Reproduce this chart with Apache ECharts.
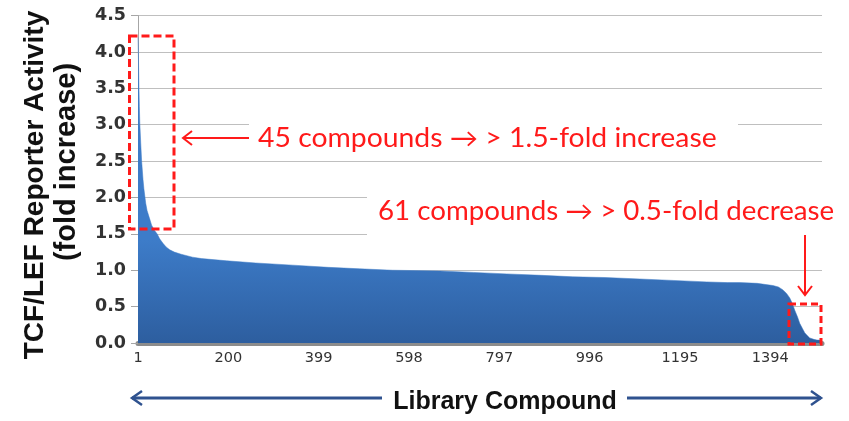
<!DOCTYPE html>
<html>
<head>
<meta charset="utf-8">
<script src="https://cdn.jsdelivr.net/npm/echarts@6/dist/echarts.min.js"></script>
<style>
html,body{margin:0;padding:0;background:#fff;}
#chart{width:849px;height:421px;}
</style>
</head>
<body>
<div id="chart"></div>
<script>
// Compound rank (1-based, sorted by activity) and TCF/LEF reporter activity (fold increase)
var compoundRank = [1,2,3,4,5,7,9,12,14,18,21,26,31,37,43,49,56,63,71,81,96,121,141,196,260,342,420,489,562,666,740,813,890,959,1030,1106,1180,1254,1300,1327,1365,1400,1412,1422,1430,1437,1443,1448,1454,1459,1465,1470,1476,1481,1490,1497,1503,1508];
var activity = [4.20,3.90,3.55,3.25,3.02,2.75,2.50,2.25,2.12,1.92,1.82,1.72,1.62,1.55,1.50,1.43,1.37,1.32,1.28,1.25,1.22,1.18,1.16,1.13,1.10,1.07,1.04,1.02,1.00,0.99,0.97,0.95,0.93,0.91,0.90,0.88,0.86,0.84,0.83,0.83,0.82,0.79,0.77,0.73,0.68,0.62,0.54,0.45,0.36,0.27,0.20,0.14,0.10,0.07,0.05,0.04,0.04,0.03];
var totalCompounds = 1508;
var xTickStep = 199;        // x tick labels: 1, 200, 399, ... 1394
var yTicks = [0,0.5,1,1.5,2,2.5,3,3.5,4,4.5];
var yTitle1 = 'TCF/LEF Reporter Activity';
var yTitle2 = '(fold increase)';
var xTitle = 'Library Compound';
var note1 = '45 compounds \u2192 > 1.5-fold increase';
var note2 = '61 compounds \u2192 > 0.5-fold decrease';

var seriesData = compoundRank.map(function(r, i){ return [r - 1, activity[i]]; });

var chart = echarts.init(document.getElementById('chart'), null, {renderer:'canvas'});
var red = '#ff1a1a';
var blue = '#2f528f';
var noteFont = '26px Lato, "DejaVu Sans", sans-serif';
var titleFont = '"Liberation Sans", Arial, sans-serif';
var option = {
  animation: false,
  backgroundColor: '#ffffff',
  grid: {left: 138, right: 27, top: 15.6, bottom: 78, containLabel: false},
  xAxis: {
    type: 'value',
    min: 0, max: totalCompounds - 1, interval: xTickStep,
    offset: 2.5,
    axisLine: {show: true, lineStyle: {color: '#8c8c8c', width: 5}},
    axisTick: {show: false},
    splitLine: {show: false},
    axisLabel: {
      margin: 5, showMaxLabel: false,
      color: '#333333', fontFamily: 'DejaVu Sans', fontSize: 14.5,
      formatter: function(v){ return String(Math.round(v) + 1); }
    }
  },
  yAxis: {
    type: 'value',
    min: yTicks[0], max: yTicks[yTicks.length-1], interval: 0.5,
    axisLine: {show: true, lineStyle: {color: '#a6a6a6', width: 1}},
    axisTick: {show: true, length: 7, lineStyle: {color: '#a6a6a6'}},
    splitLine: {show: true, lineStyle: {color: '#bfbfbf', width: 1}},
    axisLabel: {
      margin: 12, color: '#333333', fontFamily: 'DejaVu Sans', fontWeight: 'bold', fontSize: 17.5,
      formatter: function(v){ return v.toFixed(1); }
    }
  },
  series: [{
    type: 'line',
    data: seriesData,
    showSymbol: false,
    lineStyle: {width: 0.5, color: '#3c7ac6'},
    areaStyle: {
      opacity: 1,
      color: new echarts.graphic.LinearGradient(0, 240, 0, 343, [
        {offset: 0, color: '#3d7cc9'},
        {offset: 1, color: '#2d5e9f'}
      ], true)
    },
    z: 2
  }],
  graphic: [
    // white boxes behind the annotation texts
    {type:'rect', z: 50, shape:{x:249, y:112, width:489, height:42}, style:{fill:'#ffffff'}},
    {type:'rect', z: 50, shape:{x:367, y:186, width:482, height:52}, style:{fill:'#ffffff'}},
    {type:'text', z: 60, x: 258, y: 139, scaleX: 1.09, style:{text: note1, fill: red, font: noteFont, textAlign:'left', textVerticalAlign:'middle'}},
    {type:'text', z: 60, x: 378, y: 212, scaleX: 1.065, style:{text: note2, fill: red, font: noteFont, textAlign:'left', textVerticalAlign:'middle'}},
    // red left arrow
    {type:'line', z: 60, shape:{x1:183, y1:138, x2:249, y2:138}, style:{stroke: red, lineWidth: 2}},
    {type:'polyline', z: 60, shape:{points:[[192,131],[183,138],[192,145]]}, style:{stroke: red, lineWidth: 2, fill: null}},
    // red down arrow
    {type:'line', z: 60, shape:{x1:805, y1:235, x2:805, y2:295}, style:{stroke: red, lineWidth: 2}},
    {type:'polyline', z: 60, shape:{points:[[798,286],[805,295],[812,286]]}, style:{stroke: red, lineWidth: 2, fill: null}},
    // dashed boxes
    {type:'rect', z: 60, shape:{x:129.5, y:36, width:44.5, height:193}, style:{stroke: red, lineWidth: 3, lineDash:[8,4], fill: null}},
    {type:'rect', z: 60, shape:{x:789, y:304, width:32, height:40}, style:{stroke: red, lineWidth: 3, lineDash:[7,4], fill: null}},
    // y axis title
    {type:'text', z: 60, x: 35, y: 185, rotation: Math.PI/2, style:{text: yTitle1, fill:'#111111', font:'bold 28px ' + titleFont, textAlign:'center', textVerticalAlign:'middle'}},
    {type:'text', z: 60, x: 67, y: 162, rotation: Math.PI/2, style:{text: yTitle2, fill:'#111111', font:'bold 29px ' + titleFont, textAlign:'center', textVerticalAlign:'middle'}},
    // x title with arrows
    {type:'text', z: 60, x: 505, y: 402, style:{text: xTitle, fill:'#111111', font:'bold 25px ' + titleFont, textAlign:'center', textVerticalAlign:'middle'}},
    {type:'line', z: 60, shape:{x1:132, y1:398, x2:382, y2:398}, style:{stroke: blue, lineWidth: 3}},
    {type:'polyline', z: 60, shape:{points:[[142,391],[132,398],[142,405]]}, style:{stroke: blue, lineWidth: 2.5, fill: null}},
    {type:'line', z: 60, shape:{x1:627, y1:398, x2:821, y2:398}, style:{stroke: blue, lineWidth: 3}},
    {type:'polyline', z: 60, shape:{points:[[811,391],[821,398],[811,405]]}, style:{stroke: blue, lineWidth: 2.5, fill: null}}
  ]
};
chart.setOption(option);
</script>
</body>
</html>
